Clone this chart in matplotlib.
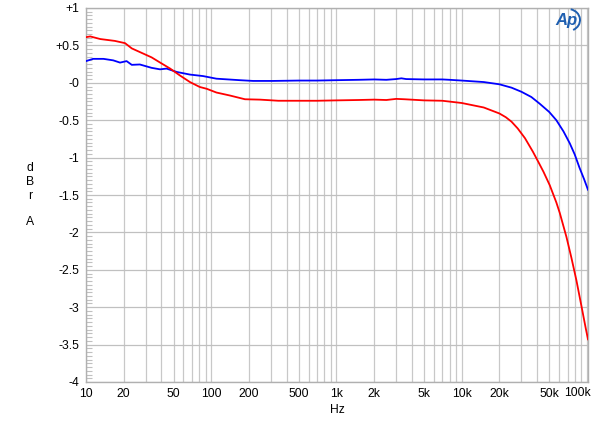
import matplotlib
matplotlib.use('Agg')
import matplotlib.pyplot as plt
from matplotlib.patches import Arc
from matplotlib.ticker import FixedLocator, MultipleLocator, NullFormatter

plt.rcParams['font.family'] = ['Liberation Sans', 'DejaVu Sans']

# blue trace
freq_blue = [10, 11.4, 13.8, 16.5, 18.7, 21.1, 23.2, 26.9, 33.4, 39, 44, 53, 67.6, 86,
             110, 169, 216, 312, 500, 700, 1000, 1500, 2000, 2500, 3000, 3300, 3600,
             5000, 7000, 8000, 10000, 15000, 20000, 25000, 30000, 36000, 42000, 50000,
             57000, 65000, 73000, 80000, 87000, 95000, 102000]
db_blue = [0.29, 0.32, 0.32, 0.30, 0.27, 0.29, 0.24, 0.245, 0.20, 0.18, 0.19, 0.145, 0.11, 0.09,
           0.055, 0.035, 0.025, 0.025, 0.03, 0.03, 0.035, 0.04, 0.045, 0.04, 0.05, 0.06, 0.05,
           0.045, 0.045, 0.04, 0.03, 0.01, -0.02, -0.065, -0.12, -0.19, -0.28, -0.39,
           -0.5, -0.65, -0.81, -0.96, -1.13, -1.29, -1.43]

# red trace
freq_red = [10, 10.8, 13, 17, 20.5, 23.2, 27, 33.4, 40, 47, 56, 67.6, 81, 92, 110, 141,
            186, 245, 343, 500, 700, 1000, 1500, 2000, 2500, 3000, 3500, 5000, 7000,
            10000, 15000, 20000, 22500, 25000, 28000, 32000, 37000, 41000, 45000, 50500,
            57000, 60700, 68600, 75200, 82400, 90300, 97800, 102000]
db_red = [0.61, 0.62, 0.585, 0.56, 0.53, 0.46, 0.41, 0.34, 0.26, 0.19, 0.10, 0.01, -0.056, -0.08, -0.13, -0.17,
          -0.22, -0.225, -0.24, -0.24, -0.24, -0.235, -0.23, -0.225, -0.23, -0.215, -0.22, -0.235, -0.24,
          -0.27, -0.33, -0.41, -0.46, -0.52, -0.61, -0.74, -0.92, -1.06, -1.19, -1.37,
          -1.60, -1.74, -2.06, -2.34, -2.64, -2.98, -3.28, -3.43]

x_ticks = [10, 20, 50, 100, 200, 500, 1000, 2000, 5000, 10000, 20000, 50000, 100000]
x_labels = ['10', '20', '50', '100', '200', '500', '1k', '2k', '5k', '10k', '20k', '50k', '100k']
y_ticks = [1, 0.5, 0, -0.5, -1, -1.5, -2, -2.5, -3, -3.5, -4]
y_labels = ['+1', '+0.5', '-0', '-0.5', '-1', '-1.5', '-2', '-2.5', '-3', '-3.5', '-4']

fig = plt.figure(figsize=(6, 4.22), dpi=100)
ax = fig.add_axes([86/600, 40/422, 502/600, 374/422])

ax.set_xscale('log')
ax.set_xlim(10, 102000)
ax.set_ylim(-4, 1)

# grid lines at every 1..9 of each decade
minor = [m * 10**d for d in range(1, 6) for m in range(1, 10) if 10 <= m * 10**d <= 102000]
for f in minor:
    ax.axvline(f, color='#c8c8c8', lw=0.9, zorder=1)
for y in y_ticks:
    ax.axhline(y, color='#c0c0c0', lw=0.9, zorder=1)

ax.plot(freq_blue, db_blue, color='#0000ff', lw=1.3, zorder=3)
ax.plot(freq_red, db_red, color='#ff0000', lw=1.3, zorder=3)

ax.xaxis.set_major_locator(FixedLocator(x_ticks))
ax.xaxis.set_minor_locator(FixedLocator([]))
# last label is drawn by hand, right-aligned to the frame
ax.set_xticklabels(x_labels[:-1] + [''])
ax.text(1.006, -0.014, x_labels[-1], transform=ax.transAxes, ha='right', va='top', fontsize=8.7)
ax.set_yticks(y_ticks)
ax.set_yticklabels(y_labels)
ax.yaxis.set_minor_locator(MultipleLocator(0.05))
ax.yaxis.set_minor_formatter(NullFormatter())
ax.tick_params(axis='x', which='both', length=0, labelsize=8.7, pad=4)
ax.tick_params(axis='y', which='major', length=0, labelsize=8.7, pad=5)
ax.tick_params(axis='y', which='minor', direction='in', length=4, color='#c0c0c0', width=0.8)

for s in ax.spines.values():
    s.set_color('#b0b0b0')
    s.set_linewidth(1.0)

fig.text(337/600, 1 - 410/422, 'Hz', ha='center', va='center', fontsize=8.7)
for ch, yp in [('d', 168), ('B', 182), ('r', 196), ('A', 222)]:
    fig.text(30/600, 1 - yp/422, ch, ha='center', va='center', fontsize=8.7)

# Audio Precision logo
fig.text(566/600, 1 - 20/422, 'Ap', ha='center', va='center', fontsize=12,
         style='italic', color='#1f5fb0', fontweight='bold')
fig.patches.append(Arc((568/600, 1 - 20/422), 24/600, 22/422, theta1=-70, theta2=80,
                       transform=fig.transFigure, color='#1f5fb0', lw=1.4))

fig.savefig('out.png', dpi=100)
